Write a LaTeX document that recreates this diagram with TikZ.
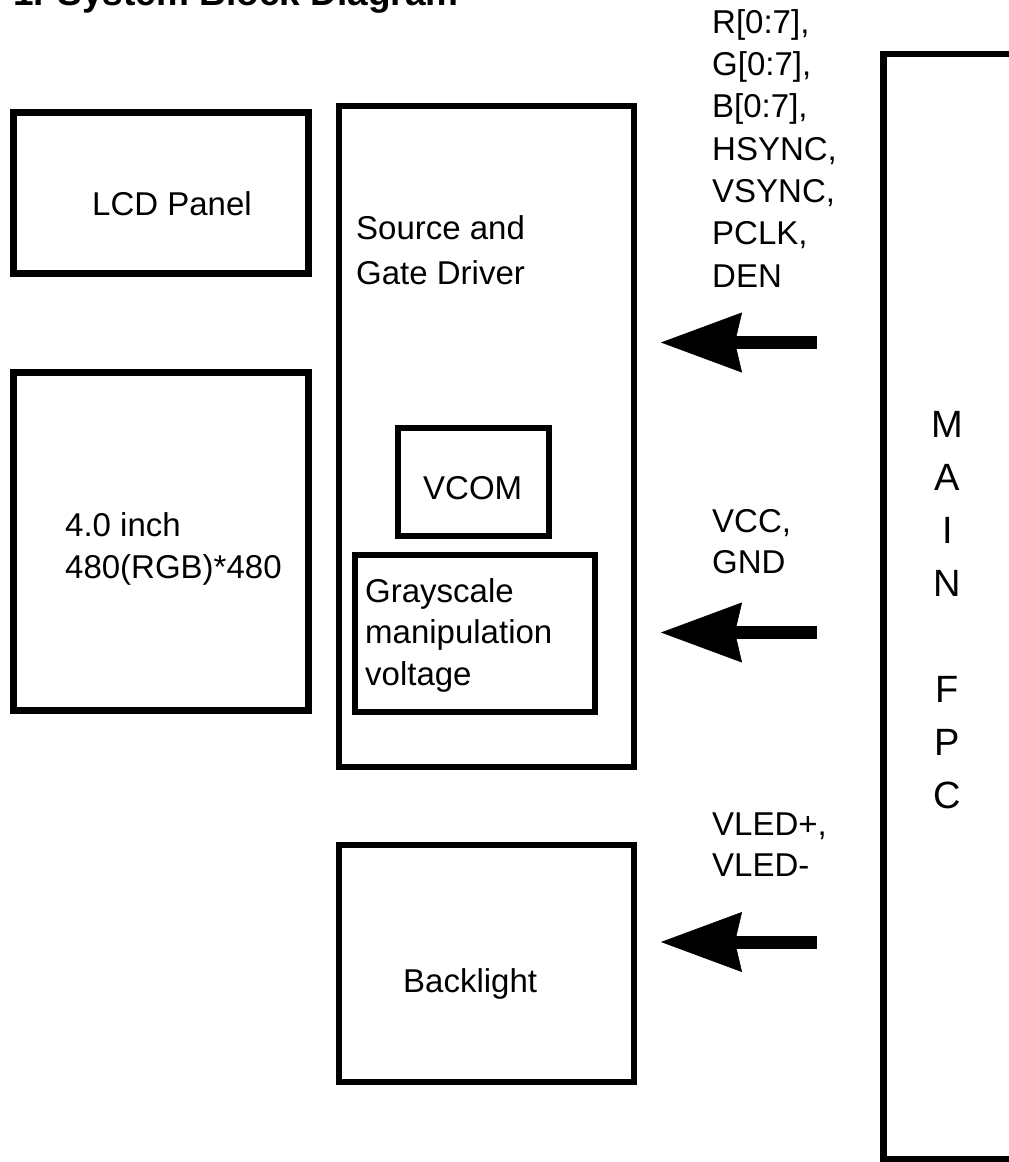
\documentclass[tikz,border=0pt]{standalone}
\usepackage{fontspec}
\setmainfont{Liberation Sans}
\usetikzlibrary{arrows.meta}
\begin{document}
\begin{tikzpicture}[x=1pt,y=-1pt,
  box/.style={draw, line width=6pt, inner sep=0pt, rectangle},
  thickbox/.style={box, line width=7pt},
  txt/.style={inner sep=0pt, anchor=base west, align=left, font=\fontsize{33}{42}\selectfont},
  bigarrow/.style={line width=13pt, -{Stealth[length=81pt, width=60pt, inset=7pt, line width=0.5pt]}}
]
\useasboundingbox (0,0) rectangle (1009,1162);
\clip (0,0) rectangle (1009,1162);
\fill[white] (0,0) rectangle (1009,1162);

% title (cut off at the top)
\node[inner sep=0pt, anchor=base west, font=\fontsize{37}{44}\selectfont\bfseries] (title) at (13,5) {1. System Block Diagram};

% boxes
\node[thickbox, minimum width=295pt, minimum height=161.5pt] (lcd) at (161,192.75) {};
\node[thickbox, minimum width=295pt, minimum height=338pt] (panel) at (161,541) {};
\node[box, minimum width=295.5pt, minimum height=661pt] (drv) at (486.25,436) {};
\node[box, minimum width=150.5pt, minimum height=107.5pt] (vcom) at (473.25,481.75) {};
\node[box, minimum width=240pt, minimum height=157.5pt] (gray) at (474.5,633.25) {};
\node[box, minimum width=295.5pt, minimum height=237.5pt] (bl) at (486.25,963.25) {};
\node[box, line width=6.5pt, minimum width=156.5pt, minimum height=1105.5pt] (fpc) at (961.75,606.75) {};

% texts (anchor = baseline of the last line)
\node[txt] (lcdt) at (92,215) {LCD Panel};
\node[txt] (panelt) at (65,578) {4.0 inch\\480(RGB)*480};
\node[txt, font=\fontsize{33}{45}\selectfont] (drvt) at (356,284) {Source and\\Gate Driver};
\node[txt] (vcomt) at (423,499) {VCOM};
\node[txt, font=\fontsize{33}{41.5}\selectfont] (grayt) at (365,685) {Grayscale\\manipulation\\voltage};
\node[txt] (blt) at (403,992) {Backlight};
\node[txt, font=\fontsize{33}{42.3}\selectfont] (sig) at (712,287) {R[0:7],\\G[0:7],\\B[0:7],\\HSYNC,\\VSYNC,\\PCLK,\\DEN};
\node[txt, font=\fontsize{33}{41}\selectfont] (pwr) at (712,573) {VCC,\\GND};
\node[txt, font=\fontsize{33}{41}\selectfont] (led) at (712,876) {VLED+,\\VLED-};
\node[inner sep=0pt, anchor=base, align=center, font=\fontsize{38}{53}\selectfont] (fpct) at (947.5,808) {M\\A\\I\\N\\[53pt]F\\P\\C};

% arrows
\coordinate (s1) at (817,342.5); \coordinate (e1) at (661,342.5);
\coordinate (s2) at (817,632.5); \coordinate (e2) at (661,632.5);
\coordinate (s3) at (817,942);   \coordinate (e3) at (661,942);
\draw[bigarrow] (s1) -- (e1);
\draw[bigarrow] (s2) -- (e2);
\draw[bigarrow] (s3) -- (e3);
\end{tikzpicture}
\end{document}
